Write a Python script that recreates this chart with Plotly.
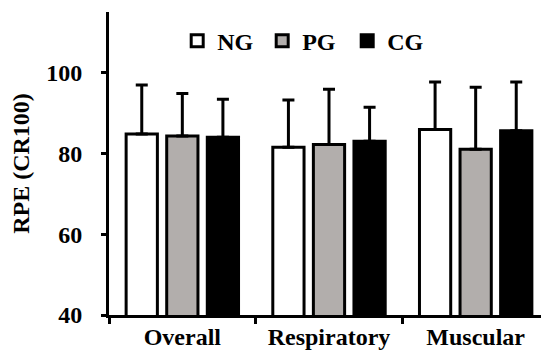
import plotly.graph_objects as go

categories = ["Overall", "Respiratory", "Muscular"]
x_pos = [0, 1, 2]
groups = ["NG", "PG", "CG"]
ng_mean = [84.8, 81.5, 85.9]
ng_sd = [12.1, 11.7, 11.8]
pg_mean = [84.3, 82.2, 81.0]
pg_sd = [10.5, 13.7, 15.4]
cg_mean = [84.0, 83.0, 85.6]
cg_sd = [9.4, 8.4, 12.1]
y_ticks = [40, 60, 80, 100]

means = [ng_mean, pg_mean, cg_mean]
sds = [ng_sd, pg_sd, cg_sd]
fills = ["#ffffff", "#b2aeac", "#000000"]

FONT = "Liberation Serif"

fig = go.Figure()
for name, m, s, c in zip(groups, means, sds, fills):
    fig.add_trace(go.Bar(
        name=name, x=x_pos, y=m, base=0,
        marker=dict(color=c, line=dict(color="black", width=3)),
        error_y=dict(type="data", symmetric=False, array=s,
                     arrayminus=[0] * len(s), color="black",
                     thickness=3, width=6),
    ))

# page body has a default 8px margin, so the figure is 8px smaller
fig.update_layout(
    width=541, height=348,
    margin=dict(l=101, r=0, t=4, b=41, autoexpand=False),
    paper_bgcolor="white", plot_bgcolor="white",
    barmode="group", bargap=0.17, bargroupgap=0.23,
    font=dict(family=FONT, color="black", size=24, weight="bold"),
    showlegend=True,
    legend=dict(orientation="h", x=0.155, xanchor="left", y=0.904,
                yanchor="middle", font=dict(size=24, family=FONT, weight="bold"),
                bgcolor="rgba(0,0,0,0)", itemwidth=30, traceorder="normal",
                entrywidth=40, entrywidthmode="pixels"),
)
fig.update_xaxes(
    range=[-0.5, 2.5], tickmode="array", tickvals=x_pos, ticktext=categories,
    ticks="", ticklen=0, showline=True, linecolor="black", linewidth=3,
    showgrid=False, zeroline=False, ticklabelstandoff=-2, automargin=False,
    tickfont=dict(size=24, family=FONT, weight="bold"),
    minor=dict(tickmode="array", tickvals=[-0.5, 0.5, 1.5], ticks="outside",
               ticklen=6, tickwidth=3, tickcolor="black", showgrid=False),
)
fig.update_yaxes(
    range=[40, 115], tickmode="array", tickvals=y_ticks,
    ticks="outside", ticklen=5, tickwidth=3, tickcolor="black",
    showline=True, linecolor="black", linewidth=3,
    showgrid=False, zeroline=False, ticklabelstandoff=14, automargin=False,
    tickfont=dict(size=24, family=FONT, weight="bold"),
    title=dict(text="RPE (CR100)", standoff=12,
               font=dict(size=24, family=FONT, weight="bold")),
)

fig.write_html("out.html")
